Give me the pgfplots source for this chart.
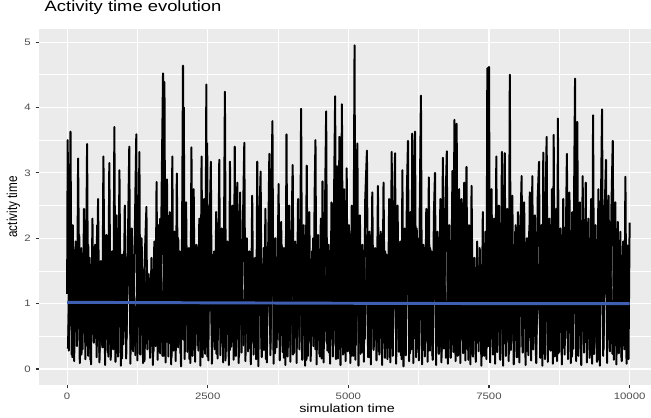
\documentclass[border=0pt]{standalone}
\usepackage{fontspec}
\setmainfont{Liberation Sans}[FakeStretch=1.22]
\newfontfamily\plainfont{Liberation Sans}
\usepackage{graphicx}
\usepackage{pgfplots}
\pgfplotsset{compat=1.18}
\definecolor{panelbg}{HTML}{EBEBEB}
\definecolor{tickgrey}{HTML}{333333}
\definecolor{labgrey}{HTML}{4D4D4D}
\definecolor{smoothblue}{RGB}{62,95,178}
\begin{document}
\begin{tikzpicture}
\path[use as bounding box] (0pt,0pt) rectangle (488.25pt,313.5pt);
\begin{axis}[
  at={(29.25pt,24.75pt)}, anchor=south west,
  scale only axis, width=459pt, height=267pt,
  xmin=-500, xmax=10380, ymin=-0.245, ymax=5.2,
  axis background/.style={fill=panelbg},
  axis line style={draw=none},
  tick pos=left, tick align=outside,
  major tick length=2.6pt, minor tick length=0pt,
  every tick/.style={tickgrey, line width=0.8pt},
  xtick={0,2500,5000,7500,10000},
  ytick={0,1,2,3,4,5},
  minor xtick={1250,3750,6250,8750},
  minor ytick={0.5,1.5,2.5,3.5,4.5},
  grid=both,
  major grid style={white, line width=0.8pt},
  minor grid style={white, line width=0.4pt},
  scaled ticks=false,
  /pgf/number format/.cd, fixed, 1000 sep={}, assume math mode=true, /pgfplots/.cd,
  ticklabel style={font=\fontsize{7}{8}\selectfont, text=labgrey},
  title={Activity time evolution},
  title style={at={(axis description cs:0,1)}, anchor=base west, yshift=6.75pt, xshift=0.75pt, font=\fontsize{11.3}{13}\selectfont},
  xlabel={simulation time},
  xlabel style={at={(axis description cs:0.5033,-0.0646)}, anchor=center, font=\fontsize{8.8}{10}\selectfont},
  ylabel={\scalebox{1}[1.22]{activity time}},
  ylabel style={at={(axis description cs:-0.0417,0.5)}, anchor=center, font=\plainfont\fontsize{8.8}{10}\selectfont},
]
\addplot[black, line width=1.5pt, line join=round, no markers] coordinates {
(0,1.15) (10,3.50) (30,0.28) (60,3.63) (80,0.22) (100,2.2) (125,0.12) (150,1.95) (175,0.35) (195,3.22) (225,0.09)
(250,1.85) (275,0.3) (300,2.45) (325,0.15) (355,3.44) (375,0.2) (400,1.7) (425,0.07) (450,2.3) (475,0.4)
(500,1.9) (525,0.18) (550,2.6) (575,0.1) (600,1.65) (625,0.33) (645,3.25) (675,0.06) (700,2.05) (725,0.25)
(750,3.15) (775,0.14) (800,1.8) (820,0.3) (840,3.70) (860,0.11) (880,2.35) (905,0.19) (930,3.04) (955,0.05) (980,1.75)
(1000,0.38) (1025,2.5) (1050,0.16) (1075,1.6) (1105,3.40) (1125,0.08) (1150,2.15) (1175,0.27) (1200,1.9) (1230,3.59)
(1250,0.13) (1285,3.32) (1300,0.22) (1325,2.0) (1350,0.09) (1375,1.55) (1410,2.48) (1425,0.3) (1450,1.45) (1475,0.17)
(1500,1.7) (1525,0.06) (1550,1.95) (1570,0.35) (1590,2.86) (1610,0.14) (1630,2.2) (1655,0.24) (1680,2.7) (1705,4.52) (1718,0.2) (1730,4.39) (1750,0.1)
(1775,2.9) (1800,0.19) (1825,2.4) (1850,0.07) (1870,3.25) (1890,0.28) (1910,2.1) (1930,0.12) (1950,2.99) (1975,0.33)
(2000,1.8) (2025,0.04) (2045,2.3) (2060,4.64) (2068,0.45) (2075,4.00) (2090,0.15) (2115,2.55) (2140,0.26) (2165,1.85) (2190,0.09) (2210,3.39) (2230,0.2)
(2250,2.75) (2275,0.11) (2300,1.9) (2325,0.36) (2350,2.3) (2370,0.05) (2390,3.25) (2410,0.18) (2435,2.6) (2455,0.23) (2475,4.35) (2482,0.6) (2490,3.45)
(2510,0.13) (2530,2.05) (2555,3.17) (2575,0.08) (2600,1.75) (2625,0.3) (2650,2.4) (2675,0.16) (2705,3.20) (2725,0.21)
(2750,2.15) (2775,0.1) (2805,4.24) (2825,0.27) (2850,1.95) (2875,0.06) (2895,3.17) (2915,0.34) (2940,2.5) (2960,0.14) (2980,3.40)
(3000,0.2) (3025,2.85) (3050,0.09) (3075,2.7) (3100,0.25) (3125,2.2) (3150,3.46) (3170,0.12) (3195,2.0) (3220,0.31) (3240,1.8)
(3265,0.07) (3290,2.65) (3315,0.22) (3340,1.7) (3360,0.15) (3380,3.17) (3400,0.04) (3420,2.35) (3440,3.02) (3460,0.18) (3480,1.6)
(3500,0.29) (3525,2.45) (3550,0.1) (3575,1.9) (3595,3.29) (3615,0.21) (3630,2.6) (3650,3.79) (3670,0.08) (3700,2.0) (3725,0.33)
(3760,2.83) (3780,0.13) (3805,2.25) (3830,0.26) (3855,1.85) (3880,0.06) (3900,3.59) (3920,0.19) (3945,2.5) (3970,0.11) (3990,2.1)
(4010,3.12) (4030,0.24) (4055,1.95) (4080,0.09) (4105,2.6) (4130,0.3) (4145,1.7) (4160,3.98) (4180,0.14) (4205,2.2) (4230,0.05)
(4260,3.11) (4280,0.2) (4305,2.4) (4330,0.12) (4355,1.8) (4380,0.35) (4400,2.65) (4415,3.50) (4435,0.07) (4460,2.05) (4485,0.23)
(4510,2.3) (4525,0.16) (4540,2.87) (4560,0.1) (4585,2.45) (4605,3.94) (4625,0.28) (4650,1.9) (4675,0.08) (4700,2.55) (4725,0.19)
(4745,2.6) (4765,4.17) (4780,0.15) (4800,3.1) (4820,0.3) (4840,3.55) (4860,0.06) (4885,4.05) (4905,0.22) (4925,2.75) (4950,0.12) (4970,3.07) (4990,0.27)
(5010,2.2) (5035,0.09) (5060,2.5) (5085,0.2) (5110,4.95) (5125,0.14) (5140,2.65) (5160,3.45) (5180,0.05) (5205,2.35) (5230,0.25)
(5250,1.9) (5275,0.11) (5300,2.6) (5330,3.34) (5350,0.18) (5375,2.1) (5400,0.07) (5425,2.7) (5450,0.29) (5475,1.85)
(5500,0.13) (5525,2.8) (5550,0.22) (5575,2.05) (5600,0.06) (5625,2.85) (5650,0.17) (5675,1.75) (5700,0.32) (5725,2.6)
(5745,0.1) (5770,3.32) (5790,0.2) (5810,2.3) (5830,3.30) (5850,0.08) (5875,2.5) (5900,0.26) (5925,1.95) (5945,0.15) (5960,3.04) (5980,0.04)
(6000,2.15) (6020,0.21) (6040,2.7) (6060,3.49) (6080,0.12) (6105,2.4) (6120,0.3) (6135,3.60) (6155,0.09) (6170,2.55) (6185,3.63) (6205,0.18) (6230,2.0)
(6250,0.25) (6270,2.6) (6290,4.18) (6310,0.07) (6335,1.9) (6360,0.19) (6385,2.45) (6410,0.11) (6430,2.93) (6450,0.28) (6475,1.8)
(6500,0.14) (6520,2.35) (6540,3.00) (6560,0.06) (6585,2.1) (6610,0.23) (6635,2.6) (6655,0.1) (6680,3.23) (6700,0.31) (6725,2.4)
(6750,3.33) (6770,0.08) (6795,2.2) (6820,0.17) (6850,3.03) (6865,0.26) (6885,3.81) (6905,0.12) (6925,3.75) (6945,0.2) (6970,2.75) (6990,0.09)
(7015,2.6) (7040,0.24) (7060,2.85) (7080,0.13) (7100,3.09) (7120,0.3) (7145,2.2) (7170,0.07) (7190,2.8) (7215,0.19) (7240,1.7)
(7265,0.11) (7290,1.95) (7315,0.27) (7340,1.6) (7365,0.05) (7390,2.4) (7415,0.2) (7440,2.1) (7455,0.15) (7470,4.60) (7485,0.35) (7500,4.62)
(7520,0.1) (7545,2.75) (7570,0.22) (7590,2.3) (7610,0.08) (7630,3.25) (7650,0.26) (7675,2.5) (7700,0.14) (7730,3.32) (7750,0.05)
(7780,3.30) (7800,0.2) (7825,2.45) (7850,0.12) (7870,4.50) (7890,0.29) (7915,2.65) (7940,0.07) (7965,2.1) (7990,0.18)
(8015,2.4) (8040,0.1) (8060,2.2) (8080,2.95) (8100,0.25) (8125,2.55) (8150,0.06) (8175,2.0) (8200,0.21) (8225,2.7)
(8250,0.13) (8270,2.95) (8290,0.3) (8315,2.35) (8340,0.09) (8365,2.6) (8390,3.17) (8410,0.17) (8435,2.2) (8450,0.05) (8465,3.31) (8485,0.23)
(8505,2.5) (8525,3.55) (8545,0.11) (8570,2.3) (8595,0.28) (8620,2.75) (8635,0.08) (8650,3.58) (8670,0.19) (8695,2.45) (8710,0.12) (8725,3.83) (8745,0.26)
(8770,2.15) (8795,0.07) (8820,2.6) (8845,0.22) (8865,1.9) (8885,3.29) (8905,0.15) (8930,2.7) (8955,0.09) (8980,2.4)
(9000,0.31) (9015,2.9) (9030,4.44) (9050,0.12) (9070,3.78) (9090,0.2) (9115,2.55) (9140,0.06) (9165,2.95) (9190,0.25) (9220,2.85) (9240,0.1)
(9265,2.3) (9290,0.17) (9315,2.6) (9335,0.08) (9350,3.88) (9370,0.23) (9395,2.2) (9420,0.11) (9445,2.75) (9470,0.05)
(9490,2.5) (9510,3.97) (9530,0.2) (9555,2.35) (9580,3.20) (9600,0.09) (9625,2.65) (9650,0.27) (9675,2.4) (9700,3.49) (9720,0.14) (9745,2.55)
(9765,0.07) (9790,2.25) (9810,0.24) (9835,2.1) (9860,0.12) (9885,1.95) (9905,0.3) (9925,2.94) (9945,0.08) (9965,1.85) (9980,0.15) (10000,2.24)
};
\addplot[black, line width=1.5pt, line join=round, no markers] coordinates {
(15,0.31) (55,1.85) (95,0.18) (135,1.6) (175,0.42) (215,2.05) (255,0.22) (295,1.45) (335,0.36) (375,1.9)
(415,0.14) (455,1.7) (495,0.47) (535,2.2) (575,0.25) (615,1.55) (655,0.33) (695,1.95) (735,0.19) (775,1.65)
(815,0.4) (855,2.1) (895,0.27) (935,1.5) (975,0.16) (1015,1.8) (1055,0.44) (1095,2.25) (1135,0.3) (1175,1.6)
(1215,0.21) (1255,1.75) (1295,0.38) (1335,1.4) (1375,0.12) (1415,1.65) (1455,0.45) (1495,1.5) (1535,0.26) (1575,1.8)
(1615,0.35) (1655,2.3) (1695,0.2) (1735,1.95) (1775,0.41) (1815,2.15) (1855,0.17) (1895,1.7) (1935,0.32) (1975,2.0)
(2015,0.24) (2055,1.85) (2095,0.46) (2135,1.6) (2175,0.15) (2215,2.2) (2255,0.37) (2295,1.75) (2335,0.28) (2375,1.9)
(2415,0.43) (2455,1.55) (2495,0.19) (2535,2.05) (2575,0.34) (2615,1.8) (2655,0.23) (2695,1.65) (2735,0.4) (2775,2.1)
(2815,0.13) (2855,1.9) (2895,0.29) (2935,2.2) (2975,0.45) (3015,1.7) (3055,0.18) (3095,1.95) (3135,0.36) (3175,1.6)
(3215,0.27) (3255,1.75) (3295,0.42) (3335,1.5) (3375,0.2) (3415,2.0) (3455,0.31) (3495,1.85) (3535,0.15) (3575,1.7)
(3615,0.39) (3655,2.15) (3695,0.24) (3735,1.6) (3775,0.44) (3815,1.9) (3855,0.17) (3895,2.05) (3935,0.33) (3975,1.75)
(4015,0.22) (4055,1.65) (4095,0.48) (4135,2.1) (4175,0.26) (4215,1.8) (4255,0.14) (4295,1.55) (4335,0.38) (4375,2.0)
(4415,0.3) (4455,1.85) (4495,0.19) (4535,2.2) (4575,0.41) (4615,1.7) (4655,0.25) (4695,1.95) (4735,0.35) (4775,2.25)
(4815,0.16) (4855,2.0) (4895,0.43) (4935,1.75) (4975,0.28) (5015,2.15) (5055,0.2) (5095,1.6) (5135,0.37) (5175,1.9)
(5215,0.23) (5255,1.7) (5295,0.46) (5335,2.05) (5375,0.18) (5415,1.85) (5455,0.34) (5495,1.65) (5535,0.27) (5575,2.1)
(5615,0.4) (5655,1.8) (5695,0.15) (5735,2.2) (5775,0.32) (5815,1.55) (5855,0.44) (5895,1.95) (5935,0.21) (5975,1.75)
(6015,0.36) (6055,2.05) (6095,0.24) (6135,1.7) (6175,0.47) (6215,2.15) (6255,0.13) (6295,1.9) (6335,0.29) (6375,1.6)
(6415,0.42) (6455,1.85) (6495,0.2) (6535,2.0) (6575,0.35) (6615,1.75) (6655,0.26) (6695,2.2) (6735,0.17) (6775,1.65)
(6815,0.31) (6855,2.1) (6895,0.45) (6935,1.8) (6975,0.22) (7015,1.95) (7055,0.38) (7095,1.6) (7135,0.14) (7175,1.7)
(7215,0.28) (7255,1.5) (7295,0.41) (7335,1.85) (7375,0.19) (7415,1.65) (7455,0.33) (7495,2.05) (7535,0.46) (7575,1.9)
(7615,0.25) (7655,2.15) (7695,0.16) (7735,1.75) (7775,0.39) (7815,2.0) (7855,0.23) (7895,1.8) (7935,0.43) (7975,2.2)
(8015,0.18) (8055,1.95) (8095,0.34) (8135,1.7) (8175,0.27) (8215,2.1) (8255,0.44) (8295,1.85) (8335,0.2) (8375,1.6)
(8415,0.37) (8455,2.05) (8495,0.15) (8535,1.8) (8575,0.3) (8615,2.2) (8655,0.42) (8695,1.75) (8735,0.24) (8775,1.95)
(8815,0.32) (8855,1.65) (8895,0.47) (8935,2.0) (8975,0.19) (9015,1.9) (9055,0.35) (9095,2.15) (9135,0.26) (9175,1.8)
(9215,0.41) (9255,1.85) (9295,0.21) (9335,2.1) (9375,0.38) (9415,1.7) (9455,0.14) (9495,1.95) (9535,0.29) (9575,2.05)
(9615,0.45) (9655,1.75) (9695,0.23) (9735,2.0) (9775,0.33) (9815,1.85) (9855,0.18) (9895,1.6) (9935,0.4) (9975,1.9)
};
\addplot[smoothblue, line width=2.2pt, no markers] coordinates {
(0,1.02) (2500,1.012) (5000,1.005) (7500,1.0) (10000,1.0)
};
\end{axis}
\end{tikzpicture}
\end{document}
